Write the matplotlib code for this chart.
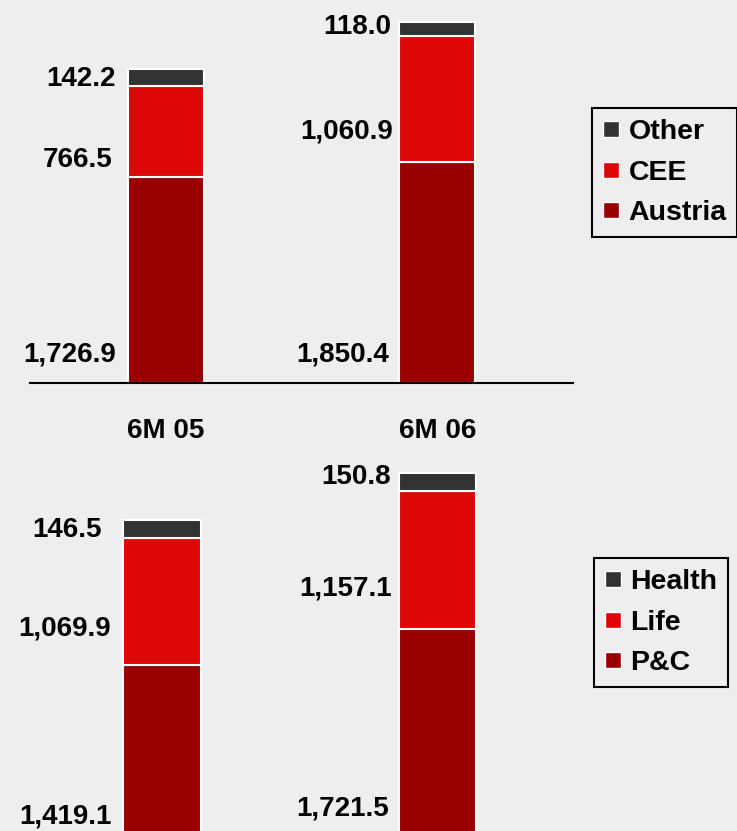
import matplotlib.pyplot as plt
from matplotlib.lines import Line2D

# data
periods = ['6M 05', '6M 06']
region_names = ['Austria', 'CEE', 'Other']
austria = [1726.9, 1850.4]
cee = [766.5, 1060.9]
other = [142.2, 118.0]
line_names = ['P&C', 'Life', 'Health']
pc = [1419.1, 1721.5]
life = [1069.9, 1157.1]
health = [146.5, 150.8]

colors = ['#990000', '#DD0707', '#333333']
bg = '#EEEEEE'

plt.rcParams['font.family'] = ['Liberation Sans', 'DejaVu Sans']
plt.rcParams['font.weight'] = 'bold'

fig = plt.figure(figsize=(7.37, 8.31), dpi=100, facecolor=bg)
W, H = 737.0, 831.0


def stacked(ax, series, names, label_y, xoff, ymax, legend_pos):
    ax.set_facecolor(bg)
    x = list(range(len(periods)))
    bottom = [0.0] * len(periods)
    for vals, name, c in zip(series, names, colors):
        ax.bar(x, vals, width=0.28, bottom=bottom, color=c,
               edgecolor='white', linewidth=1.5, label=name)
        bottom = [b + v for b, v in zip(bottom, vals)]
    # value labels left of each bar
    for i in x:
        for k, vals in enumerate(series):
            ax.annotate(f'{vals[i]:,.1f}', xy=(i - 0.14, label_y[i][k]),
                        xytext=(xoff[i][k], 0), textcoords='offset pixels',
                        ha='right', va='center', fontsize=20,
                        fontweight='bold')
    ax.set_xlim(-0.5, 1.5)
    ax.set_ylim(0, ymax)
    ax.set_yticks([])
    for s in ['top', 'right', 'left']:
        ax.spines[s].set_visible(False)
    handles = [Line2D([], [], marker='s', color=c, markersize=12,
                      linestyle='none', markeredgecolor='white')
               for c in colors]
    leg = fig.legend(handles[::-1], names[::-1], loc='upper left',
                     bbox_to_anchor=legend_pos, bbox_transform=fig.transFigure,
                     frameon=True, fancybox=False, edgecolor='black',
                     facecolor=bg, framealpha=1, fontsize=20.5,
                     handlelength=0.6, handletextpad=0.3, labelspacing=0.52,
                     borderpad=0.38, borderaxespad=0)
    leg.get_frame().set_linewidth(1.5)
    return ax


# top chart: by region
ax1 = fig.add_axes([30 / W, (H - 383) / H, 543 / W, 383 / H])
stacked(ax1, [austria, cee, other], region_names,
        [[235, 1870, 2548], [235, 2112, 2985]],
        [[-12, -15, -12], [-10, -6, -8]], 3210,
        (592 / W, 1 - 108 / H))
ax1.spines['bottom'].set_linewidth(1.5)
ax1.set_xticks([0, 1])
ax1.set_xticklabels(periods, fontsize=20, fontweight='bold')
ax1.tick_params(axis='x', length=0, pad=25)

# bottom chart: by line of business
ax2 = fig.add_axes([24.25 / W, -2 / H, 551 / W, 383 / H])
stacked(ax2, [pc, life, health], line_names,
        [[140, 1724, 2555], [207, 2060, 3002]],
        [[-12, -13, -22], [-10, -7, -8]], 3227,
        (594 / W, 1 - 558 / H))
ax2.spines['bottom'].set_visible(False)
ax2.set_xticks([])

fig.savefig('out.png', dpi=100, facecolor=bg)
